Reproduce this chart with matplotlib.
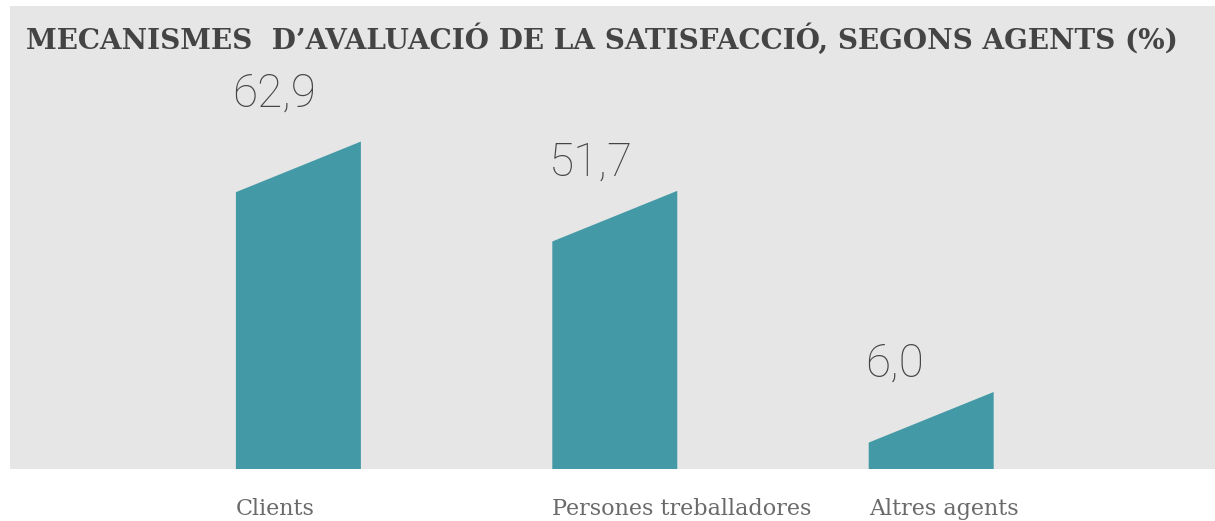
import matplotlib
matplotlib.use("Agg")
import matplotlib.pyplot as plt
from matplotlib.patches import Polygon
from matplotlib import font_manager

categories = ["Clients", "Persones treballadores", "Altres agents"]
values = [62.9, 51.7, 6.0]
value_labels = ["62,9", "51,7", "6,0"]
title = "MECANISMES  D\u2019AVALUACI\u00d3 DE LA SATISFACCI\u00d3, SEGONS AGENTS (%)"

W, H = 1215, 521
fig = plt.figure(figsize=(W / 100, H / 100), dpi=100)
fig.patch.set_facecolor("white")

# grey panel holding the bars
ax = fig.add_axes([10 / W, (H - 469) / H, (W - 10) / W, (469 - 6) / H])
ax.set_facecolor("#e6e6e6")
for s in ax.spines.values():
    s.set_visible(False)
ax.set_xticks([])
ax.set_yticks([])

bar_color = "#4499a6"
bar_width = 0.395
slant = 11.5          # rise of the right edge above the left edge
label_gap = [19.5, 15.0, 15.0]   # space between bar top and its value label

ax.set_xlim(-0.9115, 2.897)
ax.set_ylim(0, 105.2)

for i, (v, lab) in enumerate(zip(values, value_labels)):
    x0 = i - bar_width / 2
    x1 = i + bar_width / 2
    poly = Polygon([(x0, 0), (x0, v), (x1, v + slant), (x1, 0)],
                   closed=True, facecolor=bar_color, edgecolor="none")
    ax.add_patch(poly)
    ax.text(x0 - 0.012, v + label_gap[i], lab, ha="left", va="baseline",
            fontsize=33, family="Roboto", fontweight="light", color="#454545")
    ax.text(x0, -6.5, categories[i], ha="left", va="top", clip_on=False,
            fontsize=16, family="DejaVu Serif", color="#6a6a6a")

# heading: prefer the condensed cut of DejaVu Serif when it is installed
names = {f.name for f in font_manager.fontManager.ttflist}
title_family = "DejaVu Serif Condensed" if "DejaVu Serif Condensed" in names else "DejaVu Serif"
t = fig.text(26 / W, 1 - 49 / H, title, ha="left", va="baseline",
             fontsize=22.4, family=title_family, fontweight="bold",
             color="#444444")

# fit the heading to its width in the panel
fig.canvas.draw()
bb = t.get_window_extent()
target = 1180 - 26
if bb.width > target:
    t.set_fontsize(22.4 * target / bb.width)

fig.savefig("out.png", dpi=100, facecolor="white")
